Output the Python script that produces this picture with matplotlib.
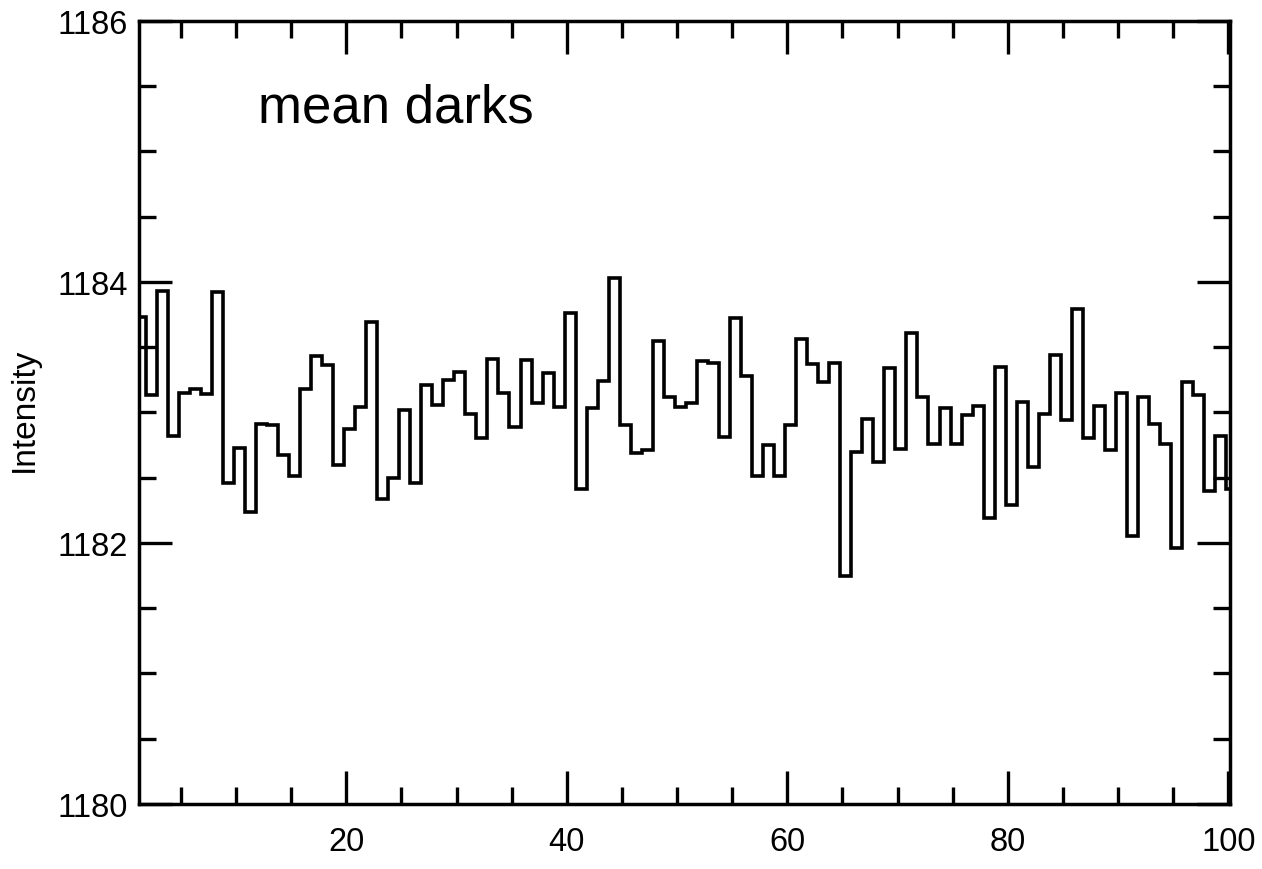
import numpy as np
import matplotlib
matplotlib.use("Agg")
import matplotlib.pyplot as plt

# ---- data (frame number -> mean dark intensity) ----
frames = np.arange(1, 101)
intensity = [
    1183.73, 1183.13, 1183.93, 1182.82, 1183.15, 1183.18, 1183.14, 1183.92, 1182.46, 1182.73,
    1182.24, 1182.91, 1182.90, 1182.67, 1182.51, 1183.18, 1183.43, 1183.36, 1182.60, 1182.87,
    1183.04, 1183.69, 1182.34, 1182.50, 1183.02, 1182.46, 1183.21, 1183.06, 1183.25, 1183.31,
    1182.99, 1182.80, 1183.41, 1183.15, 1182.89, 1183.40, 1183.07, 1183.30, 1183.04, 1183.76,
    1182.41, 1183.03, 1183.24, 1184.03, 1182.90, 1182.69, 1182.71, 1183.55, 1183.12, 1183.04,
    1183.07, 1183.39, 1183.38, 1182.81, 1183.72, 1183.28, 1182.51, 1182.75, 1182.51, 1182.90,
    1183.56, 1183.37, 1183.23, 1183.38, 1181.75, 1182.70, 1182.95, 1182.62, 1183.34, 1182.72,
    1183.61, 1183.12, 1182.76, 1183.03, 1182.76, 1182.98, 1183.05, 1182.19, 1183.35, 1182.29,
    1183.08, 1182.58, 1182.99, 1183.44, 1182.94, 1183.79, 1182.80, 1183.05, 1182.71, 1183.15,
    1182.05, 1183.12, 1182.91, 1182.76, 1181.96, 1183.23, 1183.13, 1182.40, 1182.82, 1182.41,
]
x_major_ticks = [20, 40, 60, 80, 100]
y_major_ticks = [1180, 1182, 1184, 1186]
title_text = "mean darks"
y_label = "Intensity"

# ---- figure ----
plt.rcParams["font.family"] = ["Liberation Sans", "DejaVu Sans"]
fig = plt.figure(figsize=(12.62, 8.70), dpi=100)
ax = fig.add_axes([0.1104, 0.0747, 0.8643, 0.9003])

edges = np.append(frames - 0.2, frames[-1] + 0.8)
ax.stairs(intensity, edges, color="black", linewidth=2.6, baseline=None)

ax.set_xlim(1.23, 100.15)
ax.set_ylim(1180, 1186)
ax.set_xticks(x_major_ticks)
ax.set_xticks(np.arange(5, 101, 5), minor=True)
ax.set_yticks(y_major_ticks)
ax.set_yticks(np.arange(1180, 1186.01, 0.5), minor=True)

for s in ax.spines.values():
    s.set_linewidth(2.5)

ax.tick_params(which="both", direction="in", top=True, right=True, width=2.4, colors="black")
ax.tick_params(which="major", length=23.5, labelsize=23.5)
ax.tick_params(which="minor", length=12.5)
ax.tick_params(axis="x", which="major", pad=16)
ax.tick_params(axis="y", which="major", pad=8)

ax.set_ylabel(y_label, fontsize=24, va="center")
ax.yaxis.set_label_coords(-0.1057, 0.504)

ax.text(12.0, 1185.23, title_text, fontsize=38, va="baseline", ha="left")

fig.savefig("out.png", dpi=100)
